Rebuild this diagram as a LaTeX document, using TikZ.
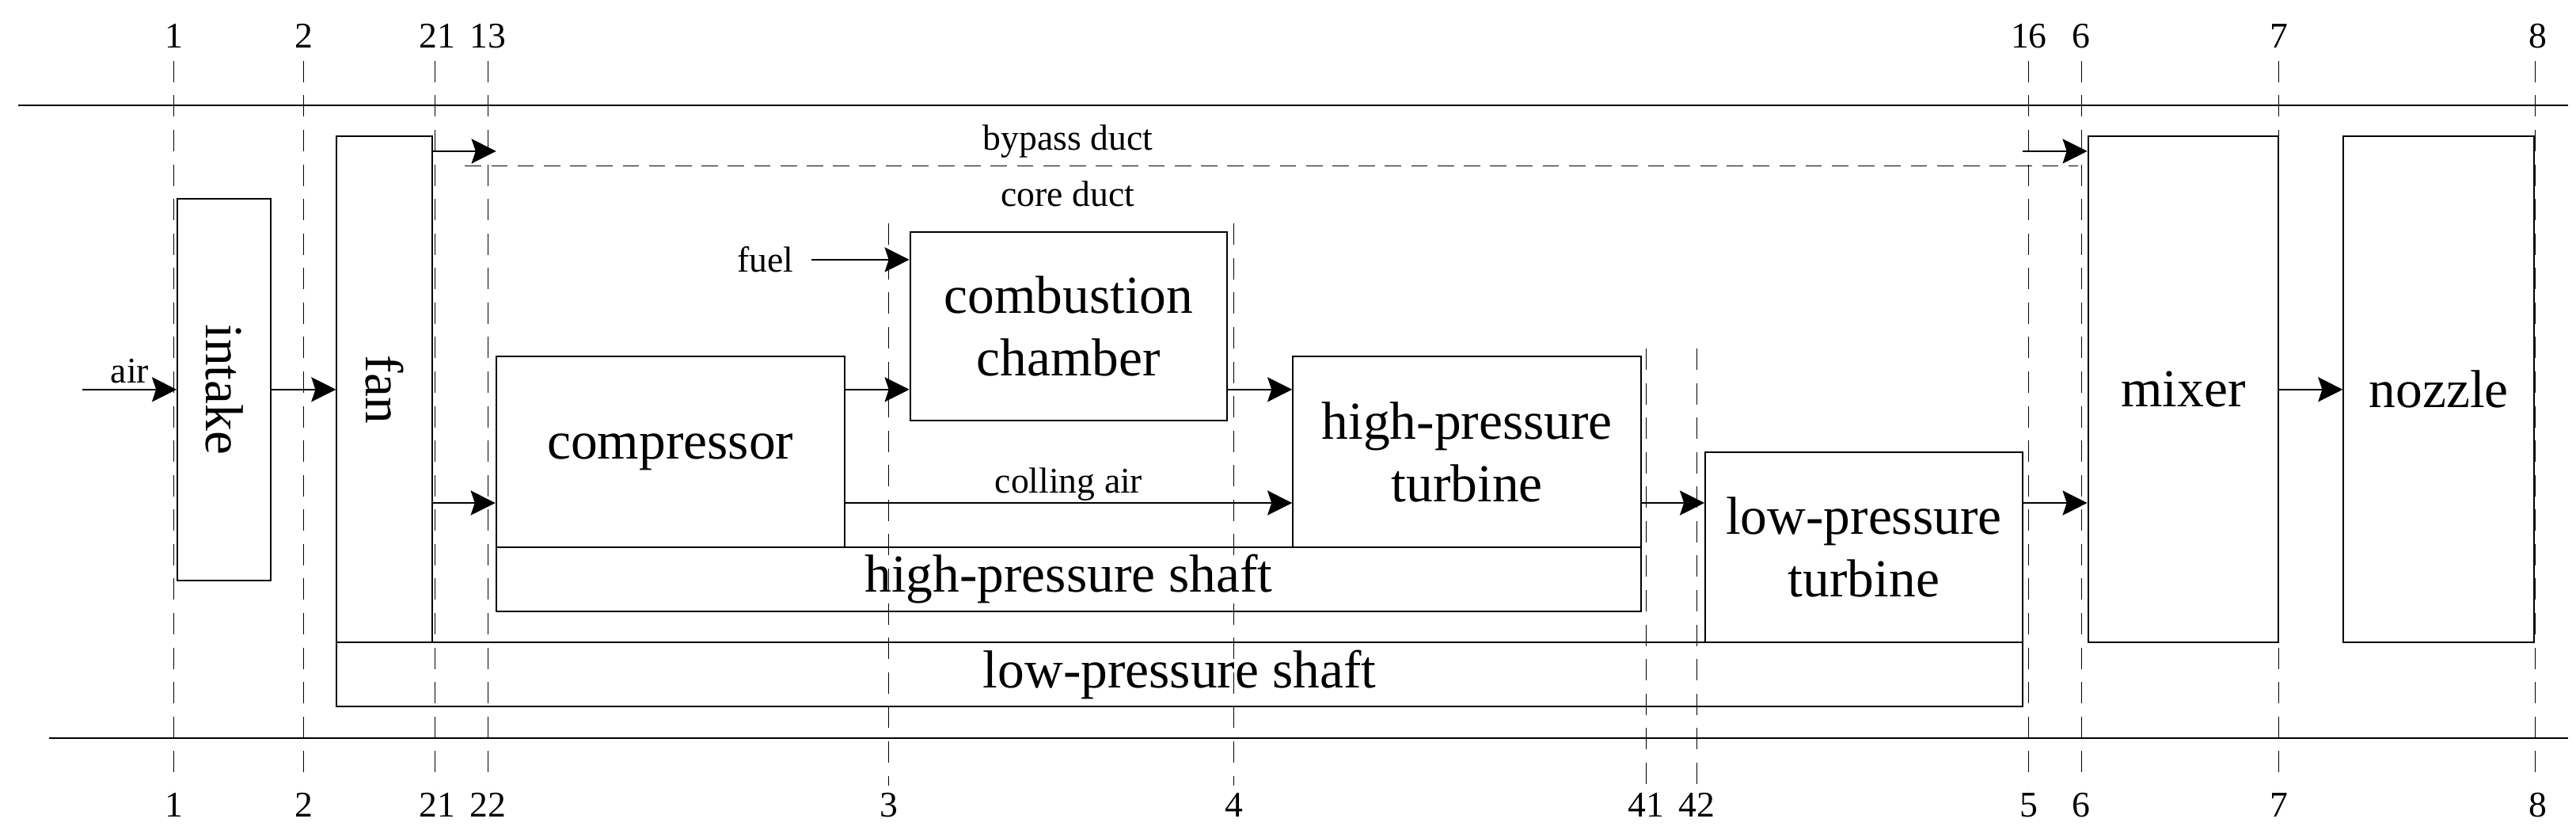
\documentclass[tikz,border=0pt]{standalone}
\usepackage{fontspec}
\setmainfont{Liberation Serif}
\usetikzlibrary{arrows.meta}
\newcommand\bigfnt{\fontsize{32.5}{38}\selectfont}
\newcommand\smallfnt{\fontsize{22}{26}\selectfont}
\begin{document}
\begin{tikzpicture}[x=1pt,y=-1pt,
  blk/.style={draw, line width=1pt, inner sep=0pt, align=center, font=\bigfnt},
  arr/.style={line width=1pt, -{Stealth[length=15pt,width=15pt,inset=2.5pt]}},
  station/.style={line width=0.5pt, dash pattern=on 13pt off 8pt},
  axisline/.style={line width=1.2pt},
  lbl/.style={font=\smallfnt, inner sep=1pt},
  num/.style={font=\smallfnt, inner sep=0pt}]
\useasboundingbox (0,0) rectangle (1568,505);

% axis lines
\draw[axisline] (11,64) -- (1563,64);
\draw[axisline] (30,449) -- (1563,449);

% station lines
\foreach \x in {106,185,265,297,1235,1267,1387,1543}
  \draw[station] (\x,37) -- (\x,478);
\foreach \x in {541,751}
  \draw[station] (\x,136) -- (\x,478);
\foreach \x in {1002,1033}
  \draw[station] (\x,212) -- (\x,478);

% station numbers
\node[num] (t1) at (106,22) {1};
\node[num] (t2) at (185,22) {2};
\node[num] (t21) at (266,22) {21};
\node[num] (t13) at (297,22) {13};
\node[num] (t16) at (1235,22) {16};
\node[num] (t6) at (1267,22) {6};
\node[num] (t7) at (1387,22) {7};
\node[num] (t8) at (1545,22) {8};
\node[num] (b1) at (106,490) {1};
\node[num] (b2) at (185,490) {2};
\node[num] (b21) at (266,490) {21};
\node[num] (b22) at (297,490) {22};
\node[num] (b3) at (541,490) {3};
\node[num] (b4) at (751,490) {4};
\node[num] (b41) at (1002,490) {41};
\node[num] (b42) at (1033,490) {42};
\node[num] (b5) at (1235,490) {5};
\node[num] (b6) at (1267,490) {6};
\node[num] (b7) at (1387,490) {7};
\node[num] (b8) at (1545,490) {8};

% blocks
\node[blk, minimum width=57pt, minimum height=232pt] (intake) at (136.5,237) {};
\node[font=\bigfnt, rotate=-90] (intaketxt) at (136.5,237) {intake};
\node[blk, minimum width=58pt, minimum height=308pt] (fan) at (234,237) {};
\node[font=\bigfnt, rotate=-90] (fantxt) at (234,237) {fan};
\node[blk, minimum width=1026pt, minimum height=39pt] (lps) at (718,410.5) {low-pressure shaft};
\node[blk, minimum width=212pt, minimum height=116pt] (comp) at (408,275) {compressor};
\node[blk, minimum width=697pt, minimum height=39pt] (hps) at (650.5,352.5) {high-pressure shaft};
\node[blk, minimum width=193pt, minimum height=115pt] (comb) at (650.5,198.5) {combustion\\chamber};
\node[blk, minimum width=212pt, minimum height=116pt] (hpt) at (893,275) {high-pressure\\turbine};
\node[blk, minimum width=193pt, minimum height=116pt] (lpt) at (1134.5,333) {low-pressure\\turbine};
\node[blk, minimum width=116pt, minimum height=308pt] (mixer) at (1329,237) {mixer};
\node[blk, minimum width=116pt, minimum height=308pt] (nozzle) at (1484.5,237) {nozzle};

% helper coordinates
\coordinate (rowA) at (0,237);
\coordinate (rowB) at (0,306);
\coordinate (rowC) at (0,92);
\coordinate (airsrc) at (50,237);
\coordinate (bpin) at (302,92);
\coordinate (bpL) at (283,101);
\coordinate (bpR) at (1265,101);
\coordinate (bpsrc) at (1231,92);
\coordinate (fuelsrc) at (494,158);

% connectors
\draw[arr] (airsrc) -- (intake.west);
\node[lbl, anchor=base] (airlbl) at (79,233) {air};
\draw[arr] (intake.east) -- (fan.west);
\draw[arr] (fan.east |- rowC) -- (bpin);
\draw[line width=0.6pt, dash pattern=on 10pt off 6pt] (bpL) -- (bpR);
\node[lbl] (bypasslbl) at (650,86) {bypass duct};
\node[lbl] (corelbl) at (650,118) {core duct};
\draw[arr] (bpsrc) -- (mixer.west |- rowC);
\draw[arr] (fan.east |- rowB) -- (comp.west |- rowB);
\node[lbl] (fuellbl) at (466,158) {fuel};
\draw[arr] (fuelsrc) -- (comb.west |- fuelsrc);
\draw[arr] (comp.east |- rowA) -- (comb.west |- rowA);
\draw[arr] (comb.east |- rowA) -- (hpt.west |- rowA);
\draw[arr] (comp.east |- rowB) -- node[lbl, above] (collbl) {colling air} (hpt.west |- rowB);
\draw[arr] (hpt.east |- rowB) -- (lpt.west |- rowB);
\draw[arr] (lpt.east |- rowB) -- (mixer.west |- rowB);
\draw[arr] (mixer.east) -- (nozzle.west);
\end{tikzpicture}
\end{document}
